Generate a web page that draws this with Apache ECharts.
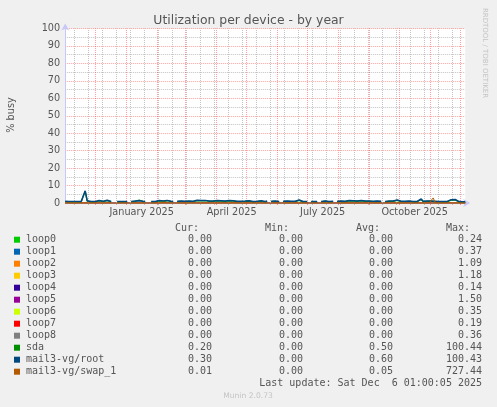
<!DOCTYPE html>
<html><head><meta charset="utf-8">
<script src="https://cdn.jsdelivr.net/npm/echarts@6/dist/echarts.min.js"></script>
<style>html,body{margin:0;padding:0;background:#f0f0f0}#c{width:497px;height:407px}</style>
</head><body><div id="c"></div>
<script>
// ---- data ----
const startDate = '2024-11-01';
const endTime = '2025-12-06T01:00:05';
const stepDays = 2;

const monthLines = ['2024-12-01','2025-01-01','2025-02-01','2025-03-01','2025-04-01','2025-05-01','2025-06-01','2025-07-01','2025-08-01','2025-09-01','2025-10-01','2025-11-01','2025-12-01'];
const weekLines = ['2024-11-10','2024-11-24','2024-12-08','2024-12-22','2025-01-05','2025-01-19','2025-02-02','2025-02-16','2025-03-02','2025-03-16','2025-03-30','2025-04-13','2025-04-27','2025-05-11','2025-05-25','2025-06-08','2025-06-22','2025-07-06','2025-07-20','2025-08-03','2025-08-17','2025-08-31','2025-09-14','2025-09-28','2025-10-12','2025-10-26','2025-11-09','2025-11-23'];
const xLabelDates = ['2025-01-16','2025-04-16','2025-07-16','2025-10-16'];
const xLabelTexts = ['January 2025','April 2025','July 2025','October 2025'];

const rootVals = [
1.0,0.9,0.9,1.0,0.8,0.9,0.9,0.8,0.9,1.0,
7.0,1.3,1.0,0.9,1.1,0.9,1.0,1.4,1.5,1.0,
1.2,1.6,1.0,0.9,null,null,0.9,0.8,0.9,1.0,
0.9,0.8,null,0.9,1.0,1.1,0.9,1.3,0.9,1.0,
0.9,null,null,0.9,1.0,0.9,1.3,1.4,2.3,1.2,
1.0,1.5,1.1,1.0,0.9,null,1.0,1.4,1.1,1.2,
1.0,1.5,1.1,1.3,1.0,1.2,1.6,2.5,1.4,1.2,
1.5,1.3,1.1,1.9,1.2,1.1,1.5,1.2,1.3,2.0,
1.1,1.2,1.4,1.0,1.3,1.1,1.0,1.4,1.0,0.9,
1.1,1.0,1.3,1.0,0.9,1.2,1.0,1.1,1.3,1.0,
0.9,1.1,null,1.0,0.9,1.1,1.0,0.9,null,1.0,
0.9,1.1,0.9,1.0,0.9,1.0,1.2,1.7,1.1,0.9,
1.0,0.9,null,0.9,1.0,0.8,0.9,null,0.9,1.0,
1.2,1.0,0.9,1.3,1.0,null,1.0,1.2,1.1,1.3,
1.0,1.2,1.4,1.1,1.3,1.5,1.2,1.1,1.4,1.8,
1.2,1.4,1.1,1.3,1.0,0.9,1.1,0.9,1.0,null,
0.9,1.0,1.1,0.9,1.2,1.0,1.7,1.1,1.0,1.3,
1.0,0.9,1.1,1.0,0.9,1.0,0.9,1.1,2.3,1.0,
0.9,1.1,1.0,1.2,1.9,1.0,0.9,0.8,0.9,0.8,
0.8,0.9,1.0,1.9,1.6,2.0,1.1,0.8,0.7,0.7,
0.7];

const sdaVals = [
0.8,0.7,0.7,0.8,0.6,0.7,0.7,0.6,0.7,0.8,
6.8,1.1,0.8,0.7,0.9,0.7,0.8,1.2,1.3,0.8,
1.0,1.4,0.8,0.7,null,null,0.7,0.6,0.7,0.8,
0.7,0.6,null,0.7,0.8,0.9,0.7,1.6,0.7,0.8,
0.7,null,null,0.7,0.8,0.7,1.1,1.2,2.1,1.0,
0.8,1.3,0.9,0.8,0.7,null,0.8,1.2,0.9,1.0,
0.8,1.3,0.9,1.1,0.8,1.0,1.4,2.3,1.2,1.7,
1.3,1.1,0.9,1.7,1.0,0.9,1.3,1.0,1.1,1.8,
0.9,1.6,1.2,0.8,1.1,0.9,0.8,1.2,0.8,0.7,
0.9,0.8,1.1,0.8,0.7,1.0,0.8,0.9,1.1,0.8,
0.7,0.9,null,0.8,0.7,0.9,0.8,0.7,null,0.8,
0.7,0.9,0.7,0.8,0.7,0.8,1.0,1.5,0.9,0.7,
0.8,0.7,null,0.7,0.8,0.6,0.7,null,0.7,0.8,
1.0,0.8,0.7,1.1,0.8,null,0.8,1.0,0.9,1.1,
0.8,1.0,1.2,0.9,1.1,1.3,1.0,0.9,1.2,1.6,
1.0,1.2,0.9,1.1,0.8,1.3,0.9,0.7,0.8,null,
0.7,0.8,0.9,0.7,1.0,0.8,1.5,0.9,0.8,1.1,
0.8,0.7,0.9,0.8,0.7,0.8,0.7,0.9,2.0,0.8,
0.7,0.9,0.8,1.0,1.6,0.8,0.7,0.6,0.7,0.6,
0.6,0.7,0.8,1.7,1.4,1.8,0.9,0.6,0.5,0.5,
0.5];

const swapVals = [
0.04,0.05,0.05,0.04,0.05,0.06,0.05,0.04,0.05,0.05,
0.08,0.05,0.04,0.05,0.05,0.04,0.05,0.06,0.05,0.04,
0.05,0.06,0.05,0.04,null,null,0.05,0.04,0.05,0.05,
0.04,0.05,null,0.05,0.04,0.05,0.05,0.06,0.04,0.05,
0.05,null,null,0.04,0.05,0.05,0.06,0.05,0.3,0.5,
0.05,0.06,0.05,0.04,0.05,null,0.05,0.06,0.05,0.05,
0.04,0.05,0.06,0.05,0.04,0.05,0.06,0.08,0.05,0.05,
0.06,0.05,0.05,0.6,0.05,0.04,0.05,0.06,0.05,0.05,
0.05,0.04,0.05,0.05,0.4,0.05,0.04,0.05,0.05,0.04,
0.05,0.05,0.04,0.05,0.05,0.06,0.05,0.04,0.05,0.05,
0.04,0.05,null,0.05,0.04,0.05,0.05,0.04,null,0.05,
0.05,0.04,0.05,0.05,0.04,0.05,0.05,0.06,0.05,0.04,
0.05,0.04,null,0.05,0.05,0.04,0.05,null,0.05,0.04,
0.05,0.05,0.04,0.05,0.05,null,0.04,0.05,0.05,0.04,
0.05,0.05,0.06,0.05,0.04,0.05,0.05,0.04,0.05,0.06,
0.05,0.04,0.05,0.05,0.04,0.05,0.05,0.04,0.05,null,
0.05,0.04,0.05,0.05,0.04,0.05,0.05,0.04,0.05,0.05,
0.04,0.05,0.05,0.04,0.05,0.05,0.04,0.05,0.06,0.05,
0.04,0.05,0.05,0.8,2.9,0.3,0.05,0.04,0.05,0.04,
0.05,0.04,0.05,0.06,0.05,0.05,0.04,0.03,0.02,0.01,
0.01];

const legendNames = ['loop0','loop1','loop2','loop3','loop4','loop5','loop6','loop7','loop8','sda','mail3-vg/root','mail3-vg/swap_1'];
const legendColors = ['#00CC00','#0066B3','#FF8000','#FFCC00','#330099','#990099','#CCFF00','#FF0000','#808080','#008F00','#00487D','#B35A00'];
const curVals = ['0.00','0.00','0.00','0.00','0.00','0.00','0.00','0.00','0.00','0.20','0.30','0.01'];
const minVals = ['0.00','0.00','0.00','0.00','0.00','0.00','0.00','0.00','0.00','0.00','0.00','0.00'];
const avgVals = ['0.00','0.00','0.00','0.00','0.00','0.00','0.00','0.00','0.00','0.50','0.60','0.05'];
const maxVals = ['0.24','0.37','1.09','1.18','0.14','1.50','0.35','0.19','0.36','100.44','100.43','727.44'];
const loopLevel = [0, 0]; // loop devices sit at 0 over the whole range

// ---- build ----
const DAY = 86400000;
const ts = s => Date.parse(s.length > 10 ? s + 'Z' : s + 'T00:00:00Z');
const t0 = ts(startDate);
const tEnd = ts(endTime);
const toSeries = arr => arr.map((v, i) => [t0 + i * stepDays * DAY, v]);

const GL = 65.2, GT = 28.5, GW = 400, GH = 174.5;
const txt = '#555555';
const mono = 'DejaVu Sans Mono';
const sans = 'DejaVu Sans';
const gridMinor = 'rgba(170,170,170,0.7)';
const gridMajor = 'rgba(255,0,0,0.37)';

const series = [];
series.push({
  type: 'line', data: [], silent: true, z: 1,
  markLine: {
    silent: true, symbol: 'none', animation: false, label: {show: false},
    data: weekLines.map(d => ({xAxis: ts(d), lineStyle: {color: gridMinor, type: [1, 1], width: 1}}))
      .concat(monthLines.map(d => ({xAxis: ts(d), lineStyle: {color: gridMajor, type: [1, 1], width: 1}})))
  }
});
for (let k = 0; k < 9; k++) {
  series.push({
    name: legendNames[k], type: 'line', showSymbol: false, z: 2,
    data: [[t0, loopLevel[0]], [tEnd, loopLevel[1]]],
    lineStyle: {color: legendColors[k], width: 1}
  });
}
[[sdaVals, 9, 1.3], [rootVals, 10, 1.5], [swapVals, 11, 1]].forEach(([arr, k, w]) => {
  series.push({
    name: legendNames[k], type: 'line', showSymbol: false, z: 3 + k,
    connectNulls: false, data: toSeries(arr),
    lineStyle: {color: legendColors[k], width: w}
  });
});

const graphics = [];
graphics.push({type: 'text', x: 485, y: 53, rotation: -Math.PI / 2,
  style: {text: 'RRDTOOL / TOBI OETIKER', font: '7px ' + sans, fill: '#c4c4c4', align: 'center', verticalAlign: 'middle'}});
graphics.push({type: 'text', x: 11, y: 115, rotation: Math.PI / 2,
  style: {text: '% busy', font: '9.7px ' + sans, fill: txt, align: 'center', verticalAlign: 'middle'}});
const headerY = 228, row0 = 239.7, rowH = 12;
[['Cur:', 199], ['Min:', 289], ['Avg:', 380], ['Max:', 470]].forEach(([h, x]) => {
  graphics.push({type: 'text', x: x, y: headerY,
    style: {text: h, font: '10px ' + mono, fill: txt, align: 'right', verticalAlign: 'middle'}});
});
legendNames.forEach((n, i) => {
  const y = row0 + i * rowH;
  graphics.push({type: 'rect', shape: {x: 14, y: y - 3, width: 6, height: 6}, style: {fill: legendColors[i]}});
  graphics.push({type: 'text', x: 26, y: y, style: {text: n, font: '10px ' + mono, fill: txt, align: 'left', verticalAlign: 'middle'}});
  [[curVals, 212], [minVals, 303], [avgVals, 393], [maxVals, 482]].forEach(([col, x]) => {
    graphics.push({type: 'text', x: x, y: y, style: {text: col[i], font: '10px ' + mono, fill: txt, align: 'right', verticalAlign: 'middle'}});
  });
});
graphics.push({type: 'text', x: 482, y: row0 + 12 * rowH,
  style: {text: 'Last update: Sat Dec  6 01:00:05 2025', font: '10px ' + mono, fill: txt, align: 'right', verticalAlign: 'middle'}});
graphics.push({type: 'text', x: 248, y: 396,
  style: {text: 'Munin 2.0.73', font: '7.6px ' + sans, fill: '#c4c4c4', align: 'center', verticalAlign: 'middle'}});

const chart = echarts.init(document.getElementById('c'), null, {renderer: 'canvas'});
chart.setOption({
  animation: false,
  backgroundColor: '#f0f0f0',
  title: {text: 'Utilization per device - by year', left: 'center', top: 10,
    textStyle: {fontFamily: sans, fontSize: 12.4, fontWeight: 'normal', color: txt}},
  grid: {left: GL, top: GT, width: GW, height: GH, show: true, backgroundColor: '#ffffff', borderWidth: 0},
  xAxis: [{
    type: 'value', min: t0, max: tEnd,
    axisLine: {show: true, lineStyle: {color: '#c8c8f8', width: 1}, symbol: ['none', 'arrow'], symbolSize: [6, 7], symbolOffset: [0, 5]},
    axisTick: {show: true, length: 2, inside: false, customValues: weekLines.map(ts), lineStyle: {color: '#bbbbbb'}},
    splitLine: {show: false},
    axisLabel: {show: true, customValues: xLabelDates.map(d => ts(d) + DAY / 2), margin: 4,
      fontFamily: sans, fontSize: 9.7, color: txt,
      formatter: (v) => { const i = xLabelDates.findIndex(d => Math.abs(ts(d) + DAY / 2 - v) < DAY); return i >= 0 ? xLabelTexts[i] : ''; }}
  }, {
    type: 'value', min: t0, max: tEnd, position: 'bottom',
    axisLine: {show: false},
    axisTick: {show: true, length: 2, customValues: monthLines.map(ts), lineStyle: {color: 'rgba(255,0,0,0.4)'}},
    axisLabel: {show: false}, splitLine: {show: false}
  }],
  yAxis: {
    type: 'value', min: 0, max: 100, interval: 10,
    axisLine: {show: true, lineStyle: {color: '#c8c8f8', width: 1}, symbol: ['none', 'arrow'], symbolSize: [6, 7], symbolOffset: [0, 5]},
    axisTick: {show: false},
    axisLabel: {margin: 5, fontFamily: sans, fontSize: 9.7, color: txt},
    splitLine: {show: true, lineStyle: {color: gridMajor, type: [1, 1], width: 1}},
    minorTick: {show: false, splitNumber: 2},
    minorSplitLine: {show: true, lineStyle: {color: gridMinor, type: [1, 1], width: 1}}
  },
  series: series,
  graphic: graphics
});
</script></body></html>
